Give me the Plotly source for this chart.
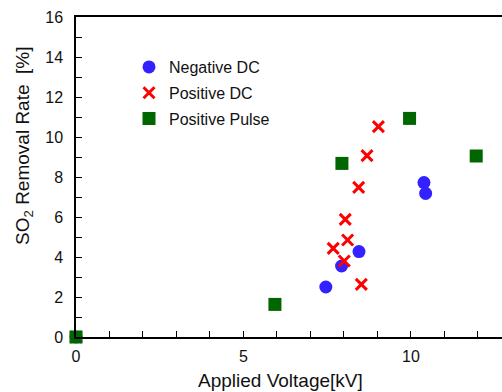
import plotly.graph_objects as go

# Data
neg_dc_x = [0, 7.46, 7.93, 8.45, 10.39, 10.44]
neg_dc_y = [0, 2.5, 3.55, 4.27, 7.72, 7.18]

pos_dc_x = [0, 9.03, 8.69, 8.44, 8.04, 8.11, 7.68, 8.01, 8.52]
pos_dc_y = [0, 10.52, 9.07, 7.48, 5.88, 4.85, 4.43, 3.8, 2.63]

pulse_x = [0, 5.94, 7.94, 9.96, 11.95]
pulse_y = [0, 1.63, 8.68, 10.93, 9.05]

x_ticks = [0, 5, 10]
y_ticks = [0, 2, 4, 6, 8, 10, 12, 14, 16]

font_family = "Liberation Sans, Arial, sans-serif"
W, H = 502, 392
ML, MR, MT, MB = 76, 0, 17, 55
PW, PH = W - ML - MR, H - MT - MB

fig = go.Figure()
fig.add_trace(go.Scatter(
    x=neg_dc_x, y=neg_dc_y, mode="markers", name="Negative DC", legendgroup="a",
    marker=dict(symbol="circle", size=13, color="#3322ff"), cliponaxis=False))
fig.add_trace(go.Scatter(
    x=pos_dc_x, y=pos_dc_y, mode="markers", name="Positive DC", legendgroup="b",
    marker=dict(symbol="x-thin-open", size=11, color="#ff0000",
                line=dict(width=3, color="#ff0000")), cliponaxis=False))
fig.add_trace(go.Scatter(
    x=pulse_x, y=pulse_y, mode="markers", name="Positive Pulse", legendgroup="c",
    marker=dict(symbol="square", size=13, color="#006600"), cliponaxis=False))

fig.update_layout(
    width=W, height=H,
    margin=dict(l=ML, r=MR, t=MT, b=MB),
    paper_bgcolor="white", plot_bgcolor="white",
    font=dict(family=font_family, size=16, color="#111111"),
    showlegend=True,
    legend=dict(x=(129 - ML) / PW, y=(H - MB - 50) / PH, xanchor="left", yanchor="top",
                bgcolor="rgba(0,0,0,0)", font=dict(size=16, color="#111111"),
                traceorder="grouped", tracegroupgap=2),
    xaxis=dict(
        range=[0, 12.72], tickvals=x_ticks, ticktext=[str(v) for v in x_ticks],
        showgrid=False, zeroline=False,
        showline=True, linecolor="black", linewidth=1.5, mirror=True,
        ticks="inside", ticklen=6, tickwidth=1, tickcolor="black",
        minor=dict(dtick=1, ticks="inside", ticklen=6, tickcolor="black", showgrid=False),
        tickfont=dict(size=16), ticklabelstandoff=4,
    ),
    yaxis=dict(
        range=[0, 16], tickvals=y_ticks, ticktext=[str(v) for v in y_ticks],
        showgrid=False, zeroline=False,
        showline=True, linecolor="black", linewidth=1.5, mirror=False,
        ticks="inside", ticklen=6, tickwidth=1, tickcolor="black",
        minor=dict(dtick=1, ticks="inside", ticklen=6, tickcolor="black", showgrid=False),
        tickfont=dict(size=16), ticklabelstandoff=8,
    ),
    annotations=[
        dict(text="Applied Voltage[kV]", xref="paper", yref="paper",
             x=(280 - ML) / PW, y=-(380 - (H - MB)) / PH, xanchor="center", yanchor="middle",
             showarrow=False, font=dict(size=19, color="#111111")),
        dict(text="SO<sub>2</sub> Removal Rate&nbsp;&nbsp;[%]", xref="paper", yref="paper",
             x=(24 - ML) / PW, y=(H - MB - 146) / PH, xanchor="center", yanchor="middle",
             textangle=-90, showarrow=False, font=dict(size=19, color="#111111")),
    ],
)

fig.write_html("out.html")
